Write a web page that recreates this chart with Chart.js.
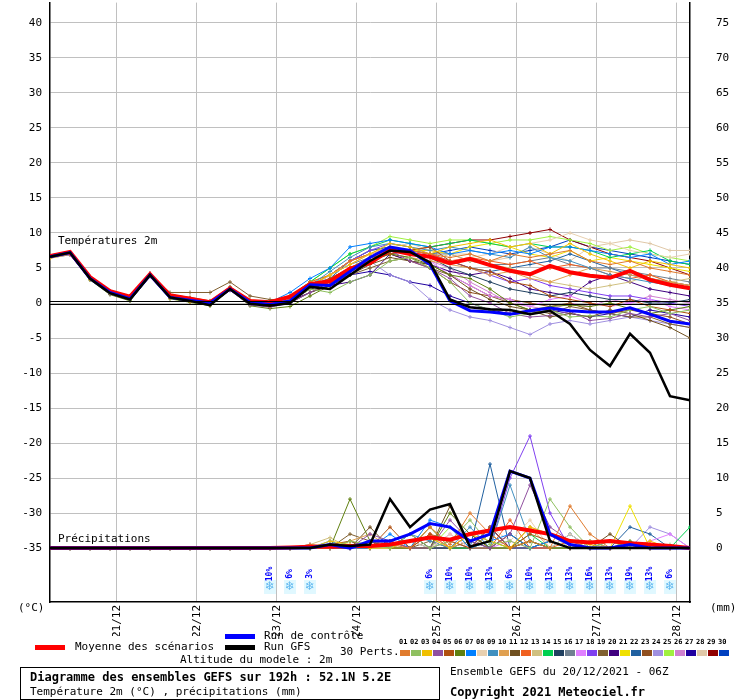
<!DOCTYPE html>
<html>
<head>
<meta charset="UTF-8" />
<title>GEFS</title>
<script src="https://cdn.jsdelivr.net/npm/chart.js@4"></script>
<style>
body{margin:0;background:#fff;font-family:"DejaVu Sans Mono",monospace;font-size:11px;color:#000}
#wrap{position:relative;width:740px;height:700px;overflow:hidden}
#c{position:absolute;left:0;top:-22px}
.a{position:absolute;white-space:nowrap}
.bar{position:absolute;height:5px}
</style>
</head>
<body>
<div id="wrap">
<canvas id="c" width="740" height="658"></canvas>
<div class="bar" style="left:35px;top:645px;width:30px;background:#f00"></div>
<div class="a" style="left:75px;top:640px">Moyenne des scénarios</div>
<div class="bar" style="left:225px;top:634px;width:30px;background:#00f"></div>
<div class="a" style="left:264px;top:629px">Run de contrôle</div>
<div class="bar" style="left:225px;top:645px;width:30px;background:#000"></div>
<div class="a" style="left:264px;top:640px">Run GFS</div>
<div class="a" style="left:180px;top:653px">Altitude du modele : 2m</div>
<div class="a" style="left:340px;top:645px">30 Perts.</div>
<div id="perts"></div>
<div style="position:absolute;left:20px;top:667px;width:418px;height:31px;border:1px solid #000"></div>
<div class="a" style="left:30px;top:670px;font-weight:bold;font-size:12px">Diagramme des ensembles GEFS sur 192h : 52.1N 5.2E</div>
<div class="a" style="left:30px;top:685px">Température 2m (°C) , précipitations (mm)</div>
<div class="a" style="left:450px;top:665px">Ensemble GEFS du 20/12/2021 - 06Z</div>
<div class="a" style="left:450px;top:685px;font-weight:bold;font-size:12px">Copyright 2021 Meteociel.fr</div>
</div>
<script>
// hours since start, every 6h
var hours = [0,6,12,18,24,30,36,42,48,54,60,66,72,78,84,90,96,102,108,114,120,126,132,138,144,150,156,162,168,174,180,186,192];
var dayTicks = [20,44,68,92,116,140,164,188];
var dayLabels = ['21/12','22/12','23/12','24/12','25/12','26/12','27/12','28/12'];
var tempTicks = [-35,-30,-25,-20,-15,-10,-5,0,5,10,15,20,25,30,35,40];
var precTicks = [0,5,10,15,20,25,30,35,40,45,50,55,60,65,70,75];

var meanTemp = [6.7,7.3,3.7,1.7,0.9,4.1,1.1,0.6,0.1,2.1,0.3,0.1,0.9,2.7,3.1,4.9,5.7,7.6,7.0,6.6,5.7,6.3,5.4,4.6,4.1,5.3,4.4,3.9,3.6,4.6,3.3,2.6,2.1];
var ctrlTemp = [6.6,7.2,3.5,1.5,0.6,4.0,0.8,0.4,0.0,2.0,0.1,-0.2,0.3,2.6,2.5,4.5,6.5,8.0,7.5,5.5,0.3,-1.1,-1.3,-1.6,-1.1,-0.7,-1.1,-1.3,-1.3,-0.7,-1.6,-2.6,-3.0];
var gfsTemp = [6.6,7.2,3.5,1.4,0.5,4.0,0.8,0.3,-0.3,2.0,-0.1,-0.4,0.0,2.3,2.0,4.0,6.0,7.5,7.3,5.8,0.5,-0.6,-0.9,-1.0,-1.6,-1.1,-3.0,-6.7,-9.0,-4.4,-7.1,-13.3,-13.9];
var meanPrec = [0,0,0,0,0,0,0,0,0,0,0,0,0.1,0.2,0.2,0.3,0.3,0.5,1,1.5,1.2,2,2.5,3,2.5,2,1,0.8,1,0.7,0.5,0.3,0];
var ctrlPrec = [0,0,0,0,0,0,0,0,0,0,0,0,0,0,0.5,0,1,1,2,3.5,3,1,2,11,10,2,0.5,0,0,0.5,0,0,0];
var gfsPrec = [0,0,0,0,0,0,0,0,0,0,0,0,0,0,0.5,0.3,0.5,7,3,5.5,6.3,0.2,1,11,10,1,0,0,0,0,0,0,0];

var pertColors = ['#e07b2d','#8fc060','#f0c000','#9050a0','#b05010','#608010','#0080ff','#e8d0b0','#4090c0','#e0a050','#705020','#f06020','#d0c080','#00d050','#204060','#708090','#e080ff','#8040f0','#806030','#400080','#f0e000','#2060a0','#905020','#a090e0','#a0f040','#d080d0','#2000a0','#e0c8a8','#900000','#0040c0'];

var pertTemp = [
[6.5,7,3.5,1.5,0.6,4,0.8,0.2,-0.2,2,0,-0.5,0.5,3,2.5,5,6,8,7.5,7,6.5,7,6,7,6.5,7,7.5,6,5.5,6,5,4.5,4],
[6.6,7.1,3.6,1.4,0.4,3.9,0.9,0.4,-0.1,2.2,-0.2,-0.4,0.2,2,1.5,3,4,6,6.5,5,3,0,-1,-2,-1.5,-1,-2,-1.8,-2,-1,-0.5,-1.5,-1],
[6.4,7,3.4,1.6,0.7,4.1,0.7,0.3,0,2,0.1,0,1,2.5,4,5.5,7,8.5,8,7,8,8.5,9,8,8.5,7,8.5,7,6,5,6,5.5,5],
[6.5,6.9,3.5,1.3,0.5,4,1,0.6,0.2,1.8,-0.3,-0.6,0,1.5,3,4.5,6,7.5,6,5,3.5,1,0,-1.5,-2,-1.8,-1.2,-2.5,-2.2,-1.5,-2,-1.5,-2.5],
[6.7,7.2,3.6,1.5,0.5,4.2,1.2,0.8,0.3,2.3,0.4,0.2,0.8,2.5,3.5,5,6.5,7,7.5,8,6,5,4.5,3,2.5,1,0.5,0,-0.5,0.5,-0.5,-1,-1.5],
[6.5,7,3.3,1.2,0.3,3.8,0.6,0.1,-0.4,1.9,-0.4,-0.8,-0.5,1,2.5,4,6,7,6.5,5.5,4,3.5,2,0,-1,-0.5,-0.3,-0.5,0,-0.8,-1.5,-1,-0.5],
[6.6,7.2,3.7,1.7,0.8,4.2,1,0.5,0.1,2.2,0.2,0.1,1.5,3.5,5,8,8.5,9,8.5,8,7,7.5,7,7.5,7,8,8,7.5,7,6.5,7,5.5,6],
[6.4,6.9,3.4,1.5,0.5,4,1,0.5,0,2.1,0,-0.2,0.3,2,4,5.5,7,8,7,6.5,6,6.5,7,8,8.5,9,10,9,8.5,7.5,7,6.5,7],
[6.5,7.1,3.5,1.6,0.6,4.1,0.9,0.4,-0.1,2,0,-0.3,0.5,2.5,4.5,6.5,8,8.5,8,7.5,8,7.5,7,6.5,8,6.5,6,5,4,3.5,3,2.5,2],
[6.6,7,3.6,1.5,0.6,4,0.8,0.3,-0.2,2.1,0.1,-0.2,0.2,2,3.5,5,6.5,7,6.5,6,5.5,5,4,4.5,3.5,3,4,5,4.5,4,3.5,3,2.5],
[6.5,7,3.5,1.4,0.5,3.9,1.1,0.7,0.2,2,-0.1,-0.5,0,1.5,2.5,4,5.5,6.5,6,5.5,4,2,0.5,-0.5,-1,-2,-1.5,-2,-1,-1.5,-2.5,-3.5,-5],
[6.7,7.2,3.6,1.6,0.7,4.2,0.9,0.5,0,2.2,0.2,0,0.8,3,4,6,7,8,7.5,7,6,6.5,6,5.5,6,5,5.5,5,4,3.5,4,3,2.5],
[6.5,7,3.5,1.5,0.5,4,0.8,0.2,-0.3,1.9,-0.2,-0.4,0.4,2.5,4,6,7,8,7,6,7,6,5.5,5,4,3,2.5,2,2.5,3,4,3,3.5],
[6.6,7.1,3.6,1.6,0.6,4.1,1,0.5,0,2.1,0.1,-0.1,1,3,5,7,8,9,8.5,8,8.5,9,8.5,8,8.5,8,8,7.5,6.5,7,7.5,6,5.5],
[6.5,7,3.4,1.4,0.4,3.9,0.7,0.2,-0.3,2,-0.1,-0.4,0.3,2,3.5,5,6,7.5,7,6.5,5,4,3,2,1.5,1,1.5,1,0.5,0.5,0,0,0.5],
[6.4,6.9,3.5,1.5,0.5,4,0.9,0.4,-0.1,2,0,-0.3,0.5,2.5,4,5.5,6.5,7,7.5,7,7,6,5.5,5.5,6,6.5,5.5,5,5,4.5,4,3.5,3],
[6.6,7.1,3.6,1.6,0.7,4.1,1,0.5,0,2.2,0.2,0,0.6,2.5,3.5,5,6.5,7.5,7,6,4,2.5,1,0.5,-0.5,0.5,1,0,-0.5,0,0.5,-0.5,-1],
[6.5,7,3.5,1.5,0.5,4,0.8,0.3,-0.2,2,0,-0.3,0.4,2,4,6,7.5,8.5,8,7,6,5,4,3,3.5,2.5,2,1.5,1,1,0.5,0,-0.5],
[6.5,7,3.5,1.5,0.6,4,1.5,1.5,1.5,3,1,0.5,0.5,2,3,4,5,6,6.5,5,4,2.5,1,0,-1,-1.5,-0.5,-1,-1.5,-2,-2,-3,-3.5],
[6.5,7,3.5,1.5,0.5,4,0.8,0.3,-0.2,2,0,-0.3,0.3,1.5,2.5,3,4,7,6,5.5,4.5,4,4.5,3.5,2,1.5,1,3,4,3,2,1.5,1],
[6.6,7.1,3.6,1.6,0.6,4.1,0.9,0.4,0,2.1,0.1,-0.1,0.8,3,4,6,7,8,7.5,7.5,7,8,8.5,8,7,6.5,7.5,6,6.5,6,5.5,5,4.5],
[6.5,7,3.5,1.5,0.5,4,0.8,0.3,-0.2,2,0,-0.3,0.5,2.5,3.5,6,7.5,8,7.5,7,6,5,4.5,5,5.5,6,7,6,5,4,3.5,3,2.5],
[6.5,7,3.4,1.4,0.4,3.9,0.8,0.3,-0.3,1.9,-0.1,-0.5,0.2,2,3,4.5,6,7,6,5,3,1.5,1,0.5,0,-0.5,0,-1,-1.5,-1,-1.5,-2,-3],
[6.5,7,3.5,1.5,0.5,4,0.8,0.3,-0.2,2,0,-0.3,0.4,2.5,3.5,5,6,4,3,0.5,-1,-2,-2.5,-3.5,-4.5,-3,-2.5,-3,-2.5,-2,-2.5,-3,-3.5],
[6.6,7.1,3.6,1.6,0.6,4.1,0.9,0.4,0,2.1,0.1,-0.1,1,3,5,7,8,9.5,9,8.5,9,9,8.5,9,9,9.5,9,8.5,7.5,8,7,6.5,6],
[6.5,7,3.5,1.5,0.5,4,0.8,0.3,-0.2,2,0,-0.3,0.5,2.5,4,5.5,7,7.5,7,6,5,3,1.5,0,-0.5,-1,0,-0.5,0.5,0,1,0.5,0],
[6.5,7,3.5,1.5,0.5,4,0.8,0.3,-0.2,2,0,-0.3,0.5,2,3,4,4.5,4,3,2.5,1,0,-1,-1.5,-1.5,-1,-1.5,-2,-1.5,-2,-1,-1.5,-2],
[6.4,6.9,3.4,1.4,0.4,3.9,0.7,0.2,-0.3,1.9,-0.1,-0.4,0.3,2.5,4,6,7.5,8,8.5,7.5,7,7,6,6.5,8,7,6,8,8.5,9,8.5,7.5,7.5],
[6.5,7,3.5,1.5,0.5,4,0.8,0.3,-0.2,2,0,-0.3,0.5,2.5,4,6,7,8,7.5,8,8.5,9,9,9.5,10,10.5,9,8,7,6.5,6,5,4],
[6.5,7,3.5,1.5,0.5,4,0.8,0.3,-0.2,2,0,-0.3,0.5,2.5,4,6,7.5,8,7.5,7,7.5,8,7.5,7,7.5,8,9,8,7.5,7,6.5,6,5.5]
];

var pertPrec = [
[0,0,0,0,0,0,0,0,0,0,0,0,0,0.5,0.3,0,1,0.5,0,3,0.5,5,2,0,1,0,6,2,0,0.5,0,0,0],
[0,0,0,0,0,0,0,0,0,0,0,0,0,0,0,1,0.5,0,2,0,1,4,0.5,1,0,7,3,0,1,0,0,0.5,0],
[0,0,0,0,0,0,0,0,0,0,0,0,0,0,1,0.5,0,0,1,1.5,0,2,1,0,3,2,1,0.5,0,0,1,0,0],
[0,0,0,0,0,0,0,0,0,0,0,0,0,0.5,0,0,2,1,0,0,4,1,0,2,9,3,1,0,0,0,0,0,0],
[0,0,0,0,0,0,0,0,0,0,0,0,0,0,0.5,1,0,3,0,2,1,0,3,0,2,1,0,0,0,0,0,0,0],
[0,0,0,0,0,0,0,0,0,0,0,0,0,0,0,7,1,0,0,0,5,2,0,0,1,0,0,0,0,1,0,0,0],
[0,0,0,0,0,0,0,0,0,0,0,0,0,0,1,0,0,2,0,4,3,0,1,2,0,1,0,0,0,0,0,0,0],
[0,0,0,0,0,0,0,0,0,0,0,0,0,0,0,0.5,0,0,1,0,2,0,3,1,4,0,2,0,0,0,0,0,0],
[0,0,0,0,0,0,0,0,0,0,0,0,0,0,0.5,0,1,0,2,1,0,3,0,9,1,0,2,0,1,0,0,0,0],
[0,0,0,0,0,0,0,0,0,0,0,0,0,0,0,1,2,0,0,3,0,1,2,0,3,0,0,1,0,0,0,0,0],
[0,0,0,0,0,0,0,0,0,0,0,0,0,0,0,0,3,0,0,0,6,0,0,2,0,1,0,0,2,0,0,0,0],
[0,0,0,0,0,0,0,0,0,0,0,0,0,0,0,0,0,1,0,2,0,2,0,4,0,0,1,0,0,0,0,0,0],
[0,0,0,0,0,0,0,0,0,0,0,0,0,0.5,1.5,0,0,0,0,0,1,0,0,0,3,2,0,0,1,0,0,0,0],
[0,0,0,0,0,0,0,0,0,0,0,0,0,0,0,0,0,0,0,3,0,0,1,0,2,0,0,1,0,0,0,0,3],
[0,0,0,0,0,0,0,0,0,0,0,0,0,0,0,1,0,0,2,0,0,1,0,0,1,0,0,0,0,0,0,0,0],
[0,0,0,0,0,0,0,0,0,0,0,0,0,0,0,0,0,1,0,0,0,2,0,0,0,0,2,0,0,0,0,0,0],
[0,0,0,0,0,0,0,0,0,0,0,0,0,0,0,0,1,0,0,0,2,0,0,1,0,0,0,0,0,0,1,2,0],
[0,0,0,0,0,0,0,0,0,0,0,0,0,0,0,0,0,0,0,0,1,0,0,10,16,5,0,0,0,0,0,0,0],
[0,0,0,0,0,0,0,0,0,0,0,0,0,0,0,2,1,0,0,1,0,0,2,0,1,0,0,0,0,0,0,0,0],
[0,0,0,0,0,0,0,0,0,0,0,0,0,0,0,0,0,1,0,0,0,0,3,0,0,0,0,0,0,0,0,0,0],
[0,0,0,0,0,0,0,0,0,0,0,0,0,0,0,0,0,0,0,0,0,0,0,0,1,0,0,0,0,6,0,0,0],
[0,0,0,0,0,0,0,0,0,0,0,0,0,0,0,0,0,0,1,0,0,0,12,0,0,1,0,0,0,3,2,0,0],
[0,0,0,0,0,0,0,0,0,0,0,0,0,0,0,0,1,0,0,0,0,0,0,2,0,0,0,0,0,0,0,0,0],
[0,0,0,0,0,0,0,0,0,0,0,0,0,0,0,0,0,0,0,0,0,0,0,0,0,0,0,0,0,0,3,2,0],
[0,0,0,0,0,0,0,0,0,0,0,0,0,0,0,0,0,0,0,0,3,0,0,0,0,0,0,0,0,0,0,0,0],
[0,0,0,0,0,0,0,0,0,0,0,0,0,0,0,0,0,0,0,2,0,0,0,0,0,0,0,0,0,0,0,0,0],
[0,0,0,0,0,0,0,0,0,0,0,0,0,0,0,0,0,0,0,0,0,0,0,0,0,0,0,0,0,0,0,0,0],
[0,0,0,0,0,0,0,0,0,0,0,0,0,0,0,0,0,0,2,0,0,0,0,0,0,0,0,0,0,0,0,0,0],
[0,0,0,0,0,0,0,0,0,0,0,0,0,0,0,0,0,0,0,0,0,0,0,0,0,0,0,0,0,0,0,0,0],
[0,0,0,0,0,0,0,0,0,0,0,0,0,0,0,0,0,0,0,0,0,0,3,0,0,0,0,0,0,0,0,0,0]
];

var snowHours = [66,72,78,114,120,126,132,138,144,150,156,162,168,174,180,186];
var snowPct = ['10%','6%','3%','6%','10%','10%','13%','6%','10%','13%','13%','16%','13%','19%','13%','6%'];

// legend squares for perturbations
var ph = '';
for (var i = 0; i < 30; i++) {
  var n = (i < 9 ? '0' : '') + (i + 1);
  ph += '<div class="a" style="left:' + (399 + i * 11) + 'px;top:638px;font-size:7px;font-weight:bold">' + n + '</div>';
  ph += '<div style="position:absolute;left:' + (400 + i * 11) + 'px;top:650px;width:10px;height:6px;background:' + pertColors[i] + '"></div>';
}
document.getElementById('perts').innerHTML = ph;

function pts(vals) { return hours.map(function (h, i) { return {x: h, y: vals[i]}; }); }

var datasets = [];
for (var k = 0; k < 30; k++) {
  datasets.push({data: pts(pertTemp[k]), yAxisID: 'y', borderColor: pertColors[k], borderWidth: 1, pointStyle: 'cross', pointRadius: 2, pointBorderColor: pertColors[k], order: 3});
  datasets.push({data: pts(pertPrec[k]), yAxisID: 'y2', borderColor: pertColors[k], borderWidth: 1, pointStyle: 'cross', pointRadius: 2, pointBorderColor: pertColors[k], order: 3});
}
datasets.push({data: pts(meanTemp), yAxisID: 'y', borderColor: '#ff0000', borderWidth: 4, pointRadius: 0, order: 2});
datasets.push({data: pts(meanPrec), yAxisID: 'y2', borderColor: '#ff0000', borderWidth: 4, pointRadius: 0, order: 2});
datasets.push({data: pts(ctrlTemp), yAxisID: 'y', borderColor: '#0000ff', borderWidth: 3, pointRadius: 0, order: 1});
datasets.push({data: pts(ctrlPrec), yAxisID: 'y2', borderColor: '#0000ff', borderWidth: 3, pointRadius: 0, order: 1});
datasets.push({data: pts(gfsTemp), yAxisID: 'y', borderColor: '#000000', borderWidth: 2.5, pointRadius: 0, order: 0});
datasets.push({data: pts(gfsPrec), yAxisID: 'y2', borderColor: '#000000', borderWidth: 2.5, pointRadius: 0, order: 0});

var extras = {
  id: 'extras',
  afterDatasetsDraw: function (chart) {
    var ctx = chart.ctx, a = chart.chartArea, x = chart.scales.x, y = chart.scales.y;
    ctx.save();
    ctx.strokeStyle = '#000'; ctx.lineWidth = 1;
    var y0 = Math.round(y.getPixelForValue(0));
    ctx.beginPath();
    ctx.moveTo(a.left, y0 - 1.5); ctx.lineTo(a.right, y0 - 1.5);
    ctx.moveTo(a.left, y0 + 1.5); ctx.lineTo(a.right, y0 + 1.5);
    ctx.stroke();
    ctx.fillStyle = '#000';
    ctx.font = '11px "DejaVu Sans Mono"';
    ctx.textBaseline = 'middle';
    ctx.fillText('Températures 2m', a.left + 8, y.getPixelForValue(8.8));
    ctx.fillText('Précipitations', a.left + 8, y.getPixelForValue(-33.7));
    ctx.fillText('(°C)', 18, a.bottom + 6);
    ctx.fillText('(mm)', a.right + 20, a.bottom + 6);
    for (var i = 0; i < snowHours.length; i++) {
      var px = x.getPixelForValue(snowHours[i]);
      ctx.fillStyle = '#e0f8ff';
      ctx.fillRect(px - 6, a.bottom - 22, 12, 14);
      ctx.fillStyle = '#60b8f0';
      ctx.font = '12px "DejaVu Sans"';
      ctx.textAlign = 'center';
      ctx.fillText('❄', px, a.bottom - 15);
      ctx.save();
      ctx.translate(px, a.bottom - 28);
      ctx.rotate(-Math.PI / 2);
      ctx.fillStyle = '#0000ff';
      ctx.font = 'bold 8px "DejaVu Sans Mono"';
      ctx.textAlign = 'center';
      ctx.fillText(snowPct[i], 0, 0);
      ctx.restore();
    }
    ctx.restore();
  }
};

new Chart(document.getElementById('c'), {
  type: 'line',
  data: {datasets: datasets},
  plugins: [extras],
  options: {
    responsive: false, animation: false,
    layout: {padding: 0},
    plugins: {legend: {display: false}, tooltip: {enabled: false}},
    elements: {line: {tension: 0}},
    scales: {
      x: {
        type: 'linear', min: 0, max: 192,
        afterBuildTicks: function (s) { s.ticks = dayTicks.map(function (v) { return {value: v}; }); },
        afterFit: function (s) { s.height = 34; },
        ticks: {maxRotation: 90, minRotation: 90, color: '#000', font: {family: 'DejaVu Sans Mono', size: 11},
          callback: function (v) { var i = dayTicks.indexOf(v); return i >= 0 ? dayLabels[i] : ''; }},
        grid: {color: '#c0c0c0', drawTicks: false},
        border: {color: '#000', width: 1.5}
      },
      y: {
        position: 'left', min: -42.7, max: 42.9,
        afterBuildTicks: function (s) { s.ticks = tempTicks.map(function (v) { return {value: v}; }); },
        afterFit: function (s) { s.width = 50; },
        ticks: {color: '#000', font: {family: 'DejaVu Sans Mono', size: 11}, padding: 8},
        grid: {color: '#c0c0c0', drawTicks: false},
        border: {color: '#000', width: 1.5}
      },
      y2: {
        position: 'right', min: -7.7, max: 77.9,
        afterBuildTicks: function (s) { s.ticks = precTicks.map(function (v) { return {value: v}; }); },
        afterFit: function (s) { s.width = 50; },
        ticks: {color: '#000', font: {family: 'DejaVu Sans Mono', size: 11}, padding: 18},
        grid: {display: false},
        border: {color: '#000', width: 1.5}
      }
    }
  }
});
</script>
</body>
</html>
